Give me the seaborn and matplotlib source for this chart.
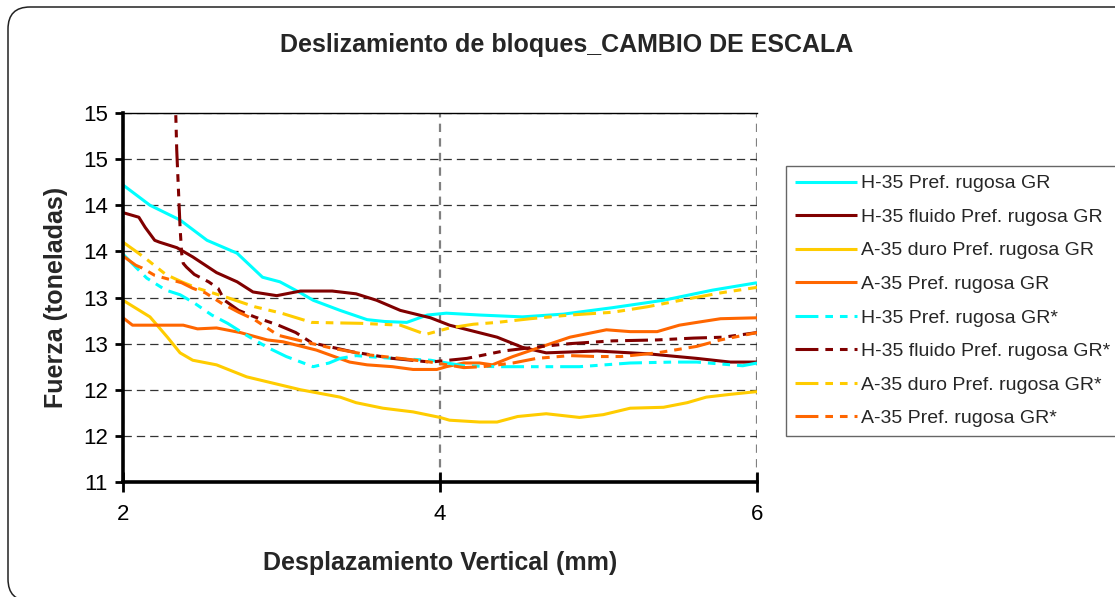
import numpy as np
import pandas as pd
import matplotlib
matplotlib.use("Agg")
import matplotlib.pyplot as plt
import seaborn as sns
from matplotlib.patches import FancyBboxPatch
from matplotlib.transforms import IdentityTransform

# ---------------- data ----------------
title = "Deslizamiento de bloques_CAMBIO DE ESCALA"
x_label = "Desplazamiento Vertical (mm)"
y_label = "Fuerza (toneladas)"

x_ticks = [2, 4, 6]
x_tick_labels = ["2", "4", "6"]
y_ticks = [11.0, 11.5, 12.0, 12.5, 13.0, 13.5, 14.0, 14.5, 15.0]
y_tick_labels = ["11", "12", "12", "13", "13", "14", "14", "15", "15"]

series_names = [
    "H-35 Pref. rugosa GR",
    "H-35 fluido Pref. rugosa GR",
    "A-35 duro Pref. rugosa GR",
    "A-35 Pref. rugosa GR",
    "H-35 Pref. rugosa GR*",
    "H-35 fluido Pref. rugosa GR*",
    "A-35 duro Pref. rugosa GR*",
    "A-35 Pref. rugosa GR*",
]

h35_x = [2.0, 2.17, 2.36, 2.53, 2.72, 2.88, 2.99, 3.12, 3.2, 3.37, 3.54, 3.65, 3.79, 3.92,
         4.04, 4.25, 4.52, 4.78, 5.09, 5.41, 5.72, 6.0]
h35_y = [14.22, 14.0, 13.84, 13.62, 13.48, 13.22, 13.17, 13.05, 12.97, 12.86, 12.76, 12.74,
         12.73, 12.81, 12.83, 12.81, 12.79, 12.82, 12.89, 12.97, 13.08, 13.16]

h35f_x = [2.0, 2.1, 2.14, 2.2, 2.23, 2.34, 2.44, 2.59, 2.72, 2.82, 2.97, 3.12, 3.32, 3.47,
          3.6, 3.75, 3.94, 4.06, 4.36, 4.52, 4.67, 4.99, 5.31, 5.62, 5.83, 6.0]
h35f_y = [13.92, 13.87, 13.76, 13.62, 13.6, 13.54, 13.44, 13.27, 13.17, 13.06, 13.02, 13.07,
          13.07, 13.04, 12.97, 12.86, 12.78, 12.70, 12.57, 12.46, 12.40, 12.42, 12.39, 12.34,
          12.30, 12.30]

a35d_x = [2.0, 2.17, 2.28, 2.36, 2.44, 2.59, 2.78, 2.95, 3.12, 3.37, 3.47, 3.64, 3.83, 4.0,
          4.06, 4.25, 4.36, 4.49, 4.67, 4.88, 5.03, 5.2, 5.41, 5.56, 5.68, 5.83, 6.0]
a35d_y = [12.97, 12.79, 12.57, 12.40, 12.32, 12.27, 12.14, 12.07, 12.0, 11.92, 11.86, 11.80,
          11.76, 11.70, 11.67, 11.65, 11.65, 11.71, 11.74, 11.70, 11.73, 11.80, 11.81, 11.86,
          11.92, 11.95, 11.98]

a35_x = [2.0, 2.06, 2.38, 2.47, 2.59, 2.74, 2.91, 3.01, 3.22, 3.43, 3.54, 3.7, 3.83, 3.98,
         4.04, 4.15, 4.25, 4.33, 4.46, 4.63, 4.82, 5.05, 5.2, 5.37, 5.51, 5.62, 5.77, 6.0]
a35_y = [12.78, 12.70, 12.70, 12.66, 12.67, 12.62, 12.54, 12.52, 12.43, 12.30, 12.27, 12.25,
         12.22, 12.22, 12.25, 12.29, 12.29, 12.27, 12.36, 12.46, 12.57, 12.65, 12.63, 12.63,
         12.70, 12.73, 12.77, 12.78]

h35s_x = [2.0, 2.08, 2.15, 2.27, 2.36, 2.45, 2.56, 2.66, 2.78, 2.91, 3.03, 3.2, 3.3, 3.37,
          3.47, 3.7, 3.94, 4.15, 4.36, 4.67, 4.88, 5.2, 5.47, 5.62, 5.91, 6.0]
h35s_y = [13.47, 13.33, 13.21, 13.08, 13.03, 12.94, 12.81, 12.72, 12.59, 12.46, 12.36, 12.25,
          12.29, 12.34, 12.37, 12.34, 12.32, 12.26, 12.25, 12.25, 12.25, 12.29, 12.30, 12.30,
          12.26, 12.29]

h35fs_x = [2.328, 2.339, 2.36, 2.37, 2.38, 2.4, 2.45, 2.54, 2.6, 2.64, 2.73, 2.83, 2.98, 3.09,
           3.19, 3.45, 3.7, 3.94, 4.17, 4.4, 4.59, 4.82, 5.09, 5.37, 5.6, 5.79, 6.0]
h35fs_y = [15.3, 14.6, 13.76, 13.48, 13.37, 13.33, 13.25, 13.17, 13.1, 12.97, 12.86, 12.79,
           12.70, 12.62, 12.51, 12.41, 12.34, 12.30, 12.34, 12.42, 12.46, 12.50, 12.53, 12.54,
           12.56, 12.57, 12.62]

a35ds_x = [2.0, 2.09, 2.16, 2.27, 2.37, 2.47, 2.64, 2.83, 3.0, 3.19, 3.5, 3.75, 3.91, 4.06,
           4.21, 4.36, 4.57, 4.82, 5.09, 5.31, 5.58, 5.77, 6.0]
a35ds_y = [13.6, 13.49, 13.40, 13.25, 13.17, 13.10, 13.01, 12.90, 12.83, 12.73, 12.72, 12.70,
           12.60, 12.67, 12.71, 12.73, 12.77, 12.81, 12.84, 12.90, 12.99, 13.05, 13.11]

a35s_x = [2.0, 2.08, 2.12, 2.2, 2.37, 2.44, 2.52, 2.62, 2.73, 2.83, 2.98, 3.17, 3.32, 3.54,
          3.75, 3.94, 4.15, 4.27, 4.46, 4.61, 4.82, 4.99, 5.14, 5.37, 5.62, 5.77, 6.0]
a35s_y = [13.45, 13.35, 13.32, 13.24, 13.16, 13.10, 13.05, 12.94, 12.84, 12.76, 12.59, 12.51,
          12.45, 12.38, 12.34, 12.30, 12.24, 12.25, 12.29, 12.34, 12.37, 12.36, 12.36, 12.40,
          12.47, 12.54, 12.62]

series_x = [h35_x, h35f_x, a35d_x, a35_x, h35s_x, h35fs_x, a35ds_x, a35s_x]
series_y = [h35_y, h35f_y, a35d_y, a35_y, h35s_y, h35fs_y, a35ds_y, a35s_y]
series_colors = ["#00FFFF", "#800000", "#FFCC00", "#FF6600",
                 "#00FFFF", "#800000", "#FFCC00", "#FF6600"]
series_dashed = [False, False, False, False, True, True, True, True]

# ---------------- style ----------------
sns.set_style("white")
plt.rcParams["font.family"] = ["Liberation Sans", "DejaVu Sans"]
plt.rcParams["lines.scale_dashes"] = False

W, H = 1115, 597
fig = plt.figure(figsize=(W / 100, H / 100), dpi=100)
fig.patch.set_facecolor("white")

# outer rounded frame
frame = FancyBboxPatch((8, -4), 1140, 590 + 4, boxstyle="round,pad=0,rounding_size=22",
                       transform=IdentityTransform(), facecolor="none",
                       edgecolor="#222222", linewidth=1.1)
fig.add_artist(frame)

ax = fig.add_axes([123 / W, 1 - 482 / H, (757 - 123) / W, (482 - 113) / H])
ax.set_facecolor("white")

long_dash = (0, (16.5, 5, 5.5, 5, 5.5, 5))
for name, xs, ys, c, d in zip(series_names, series_x, series_y, series_colors, series_dashed):
    df = pd.DataFrame({"x": xs, "y": ys})
    sns.lineplot(data=df, x="x", y="y", ax=ax, color=c, linewidth=2.2, sort=False,
                 estimator=None, label=name)
    ln = ax.get_lines()[-1]
    ln.set_linestyle(long_dash if d else "-")
    ln.set_solid_capstyle("butt")
    ln.set_dash_capstyle("butt")

ax.set_xlim(2, 6)
ax.set_ylim(11, 15)
ax.set_xticks(x_ticks)
ax.set_xticklabels(x_tick_labels)
ax.set_yticks(y_ticks)
ax.set_yticklabels(y_tick_labels)

# grid
ax.yaxis.grid(True, color="#333333", linewidth=0.9, linestyle=(0, (6, 3.6)))
ax.xaxis.grid(True, color="#808080", linewidth=1.6, linestyle=(0, (6, 4.5)))
ax.set_axisbelow(True)

for s in ["left", "bottom"]:
    ax.spines[s].set_visible(True)
    ax.spines[s].set_color("black")
    ax.spines[s].set_linewidth(2.6)
ax.spines["top"].set_visible(True)
ax.spines["top"].set_color("black")
ax.spines["top"].set_linewidth(1.0)
ax.spines["right"].set_visible(False)

ax.tick_params(axis="y", direction="out", length=6, width=2, colors="black",
               labelsize=16, pad=5, left=True)
ax.tick_params(axis="x", direction="inout", length=14, width=2, colors="black",
               labelsize=16, pad=9, bottom=True)

ax.set_xlabel("")
ax.set_ylabel("")
fig.text(440 / W, 1 - 563 / H, x_label, ha="center", va="center",
         fontsize=18, fontweight="bold")
fig.text(56 / W, 1 - 297 / H, y_label, ha="center", va="center",
         rotation=90, fontsize=18, fontweight="bold")
fig.text(567 / W, 1 - 45 / H, title, ha="center", va="center",
         fontsize=18, fontweight="bold")

handles, labels = ax.get_legend_handles_labels()
ax.get_legend().remove()
leg = fig.legend(handles, labels, loc="upper left",
                 bbox_to_anchor=(786 / W, 1 - 166 / H), bbox_transform=fig.transFigure,
                 fontsize=14, frameon=True, fancybox=False, edgecolor="#404040",
                 handlelength=3.2, handletextpad=0.22, labelspacing=0.82,
                 borderpad=0.45, borderaxespad=0)
leg.get_frame().set_linewidth(1.0)

fig.savefig("out.png", dpi=100)
